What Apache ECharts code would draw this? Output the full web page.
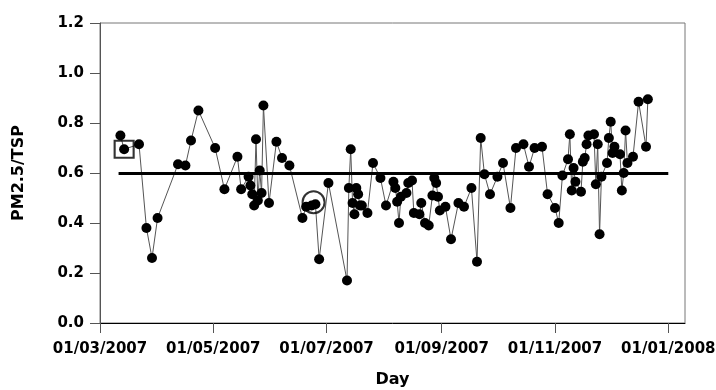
<!DOCTYPE html>
<html>
<head>
<meta charset="utf-8">
<script src="https://cdn.jsdelivr.net/npm/echarts@6/dist/echarts.min.js"></script>
<style>
  html, body { margin: 0; padding: 0; background: #fff; }
  #chart { width: 716px; height: 390px; }
</style>
</head>
<body>
<div id="chart"></div>
<script>
// sampling days and PM2.5/TSP ratios
const days = [
  '2007-03-12', '2007-03-14', '2007-03-22', '2007-03-26', '2007-03-29', '2007-04-01',
  '2007-04-12', '2007-04-16', '2007-04-19', '2007-04-23', '2007-05-02', '2007-05-07',
  '2007-05-14', '2007-05-16', '2007-05-20', '2007-05-21', '2007-05-22', '2007-05-23',
  '2007-05-24', '2007-05-25', '2007-05-26', '2007-05-27', '2007-05-28', '2007-05-31',
  '2007-06-04', '2007-06-07', '2007-06-11', '2007-06-18', '2007-06-20', '2007-06-23',
  '2007-06-25', '2007-06-27', '2007-07-02', '2007-07-12', '2007-07-13', '2007-07-14',
  '2007-07-15', '2007-07-16', '2007-07-17', '2007-07-18', '2007-07-19', '2007-07-20',
  '2007-07-23', '2007-07-26', '2007-07-30', '2007-08-02', '2007-08-06', '2007-08-07',
  '2007-08-08', '2007-08-09', '2007-08-10', '2007-08-13', '2007-08-14', '2007-08-16',
  '2007-08-17', '2007-08-20', '2007-08-21', '2007-08-23', '2007-08-25', '2007-08-27',
  '2007-08-28', '2007-08-29', '2007-08-30', '2007-08-31', '2007-09-03', '2007-09-06',
  '2007-09-10', '2007-09-13', '2007-09-17', '2007-09-20', '2007-09-22', '2007-09-24',
  '2007-09-27', '2007-10-01', '2007-10-04', '2007-10-08', '2007-10-11', '2007-10-15',
  '2007-10-18', '2007-10-21', '2007-10-25', '2007-10-28', '2007-11-01', '2007-11-03',
  '2007-11-05', '2007-11-08', '2007-11-09', '2007-11-10', '2007-11-11', '2007-11-12',
  '2007-11-15', '2007-11-16', '2007-11-17', '2007-11-18', '2007-11-19', '2007-11-22',
  '2007-11-23', '2007-11-24', '2007-11-25', '2007-11-26', '2007-11-29', '2007-11-30',
  '2007-12-01', '2007-12-02', '2007-12-03', '2007-12-06', '2007-12-07', '2007-12-08',
  '2007-12-09', '2007-12-10', '2007-12-13', '2007-12-16', '2007-12-20', '2007-12-21'
];
const ratio = [
  0.75, 0.695, 0.715, 0.38, 0.26, 0.42,
  0.635, 0.63, 0.73, 0.85, 0.70, 0.535,
  0.665, 0.535, 0.585, 0.55, 0.515, 0.47,
  0.735, 0.49, 0.61, 0.52, 0.87, 0.48,
  0.725, 0.66, 0.63, 0.42, 0.465, 0.47,
  0.475, 0.255, 0.56, 0.17, 0.54, 0.695,
  0.48, 0.435, 0.54, 0.515, 0.47, 0.47,
  0.44, 0.64, 0.58, 0.47, 0.565, 0.54,
  0.485, 0.40, 0.505, 0.52, 0.56, 0.57,
  0.44, 0.435, 0.48, 0.40, 0.39, 0.51,
  0.58, 0.56, 0.505, 0.45, 0.465, 0.335,
  0.48, 0.465, 0.54, 0.245, 0.74, 0.595,
  0.515, 0.585, 0.64, 0.46, 0.70, 0.715,
  0.625, 0.70, 0.705, 0.515, 0.46, 0.40,
  0.59, 0.655, 0.755, 0.53, 0.62, 0.565,
  0.525, 0.645, 0.66, 0.715, 0.75, 0.755,
  0.555, 0.715, 0.355, 0.585, 0.64, 0.74,
  0.805, 0.68, 0.705, 0.675, 0.53, 0.60,
  0.77, 0.64, 0.665, 0.885, 0.705, 0.895
];

// reference level and the two highlighted samples
const refLevel = 0.6;
const refFrom = '2007-03-11';
const refTo = '2008-01-01';
const boxedPoint = ['2007-03-14', 0.695];
const ringedPoint = ['2007-06-24', 0.483];

const xTicks = ['2007-03-01', '2007-05-01', '2007-07-01', '2007-09-01', '2007-11-01', '2008-01-01'];
const xMin = '2007-03-01';
const xMax = '2008-01-10';

const ts = s => {
  const p = s.split('-').map(Number);
  return new Date(p[0], p[1] - 1, p[2]).getTime();
};
const pad = n => (n < 10 ? '0' : '') + n;
const fmtDay = v => {
  const d = new Date(v);
  return pad(d.getDate()) + '/' + pad(d.getMonth() + 1) + '/' + d.getFullYear();
};

const font = 'DejaVu Sans';
const tickTs = xTicks.map(ts);

const chart = echarts.init(document.getElementById('chart'), null, { renderer: 'canvas' });

chart.setOption({
  animation: false,
  backgroundColor: '#fff',
  grid: {
    left: 100, right: 31, top: 23, bottom: 67,
    containLabel: false,
    outerBoundsMode: 'none',
    show: true, borderColor: '#777', borderWidth: 1
  },
  xAxis: {
    type: 'value',
    min: ts(xMin),
    max: ts(xMax),
    name: 'Day',
    nameLocation: 'middle',
    nameGap: 49,
    nameTextStyle: { fontFamily: font, fontWeight: 'bold', fontSize: 16, color: '#000' },
    axisLine: { show: true, lineStyle: { color: '#000', width: 1 } },
    axisTick: { show: true, length: 10, lineStyle: { color: '#555' }, customValues: tickTs },
    axisLabel: {
      customValues: tickTs,
      formatter: v => fmtDay(v),
      showMinLabel: true,
      showMaxLabel: true,
      margin: 19,
      fontFamily: font, fontWeight: 'bold', fontSize: 15, color: '#000'
    },
    splitLine: { show: false }
  },
  yAxis: {
    type: 'value',
    min: 0,
    max: 1.2,
    interval: 0.2,
    name: 'PM2.5/TSP',
    nameLocation: 'middle',
    nameGap: 73,
    nameTextStyle: { fontFamily: font, fontWeight: 'bold', fontSize: 16, color: '#000' },
    axisLine: { show: true, lineStyle: { color: '#555', width: 1 } },
    axisTick: { show: true, length: 10, lineStyle: { color: '#555' } },
    axisLabel: {
      formatter: v => v.toFixed(1),
      margin: 16,
      fontFamily: font, fontWeight: 'bold', fontSize: 15, color: '#000'
    },
    splitLine: { show: false }
  },
  series: [
    {
      name: 'PM2.5/TSP',
      type: 'line',
      data: days.map((d, i) => [ts(d), ratio[i]]),
      symbol: 'circle',
      symbolSize: 10,
      itemStyle: { color: '#000' },
      lineStyle: { color: '#555', width: 1 },
      z: 3,
      markLine: {
        silent: true,
        symbol: 'none',
        label: { show: false },
        lineStyle: { color: '#000', width: 3, type: 'solid' },
        data: [[{ coord: [ts(refFrom), refLevel] }, { coord: [ts(refTo), refLevel] }]]
      }
    },
    {
      type: 'scatter',
      data: [[ts(boxedPoint[0]), boxedPoint[1]]],
      symbol: 'rect',
      symbolSize: [19, 17],
      itemStyle: { color: 'transparent', borderColor: '#000', borderWidth: 2 },
      z: 4
    },
    {
      type: 'scatter',
      data: [[ts(ringedPoint[0]), ringedPoint[1]]],
      symbol: 'circle',
      symbolSize: 22,
      itemStyle: { color: 'transparent', borderColor: '#000', borderWidth: 2 },
      z: 4
    }
  ]
});
</script>
</body>
</html>
